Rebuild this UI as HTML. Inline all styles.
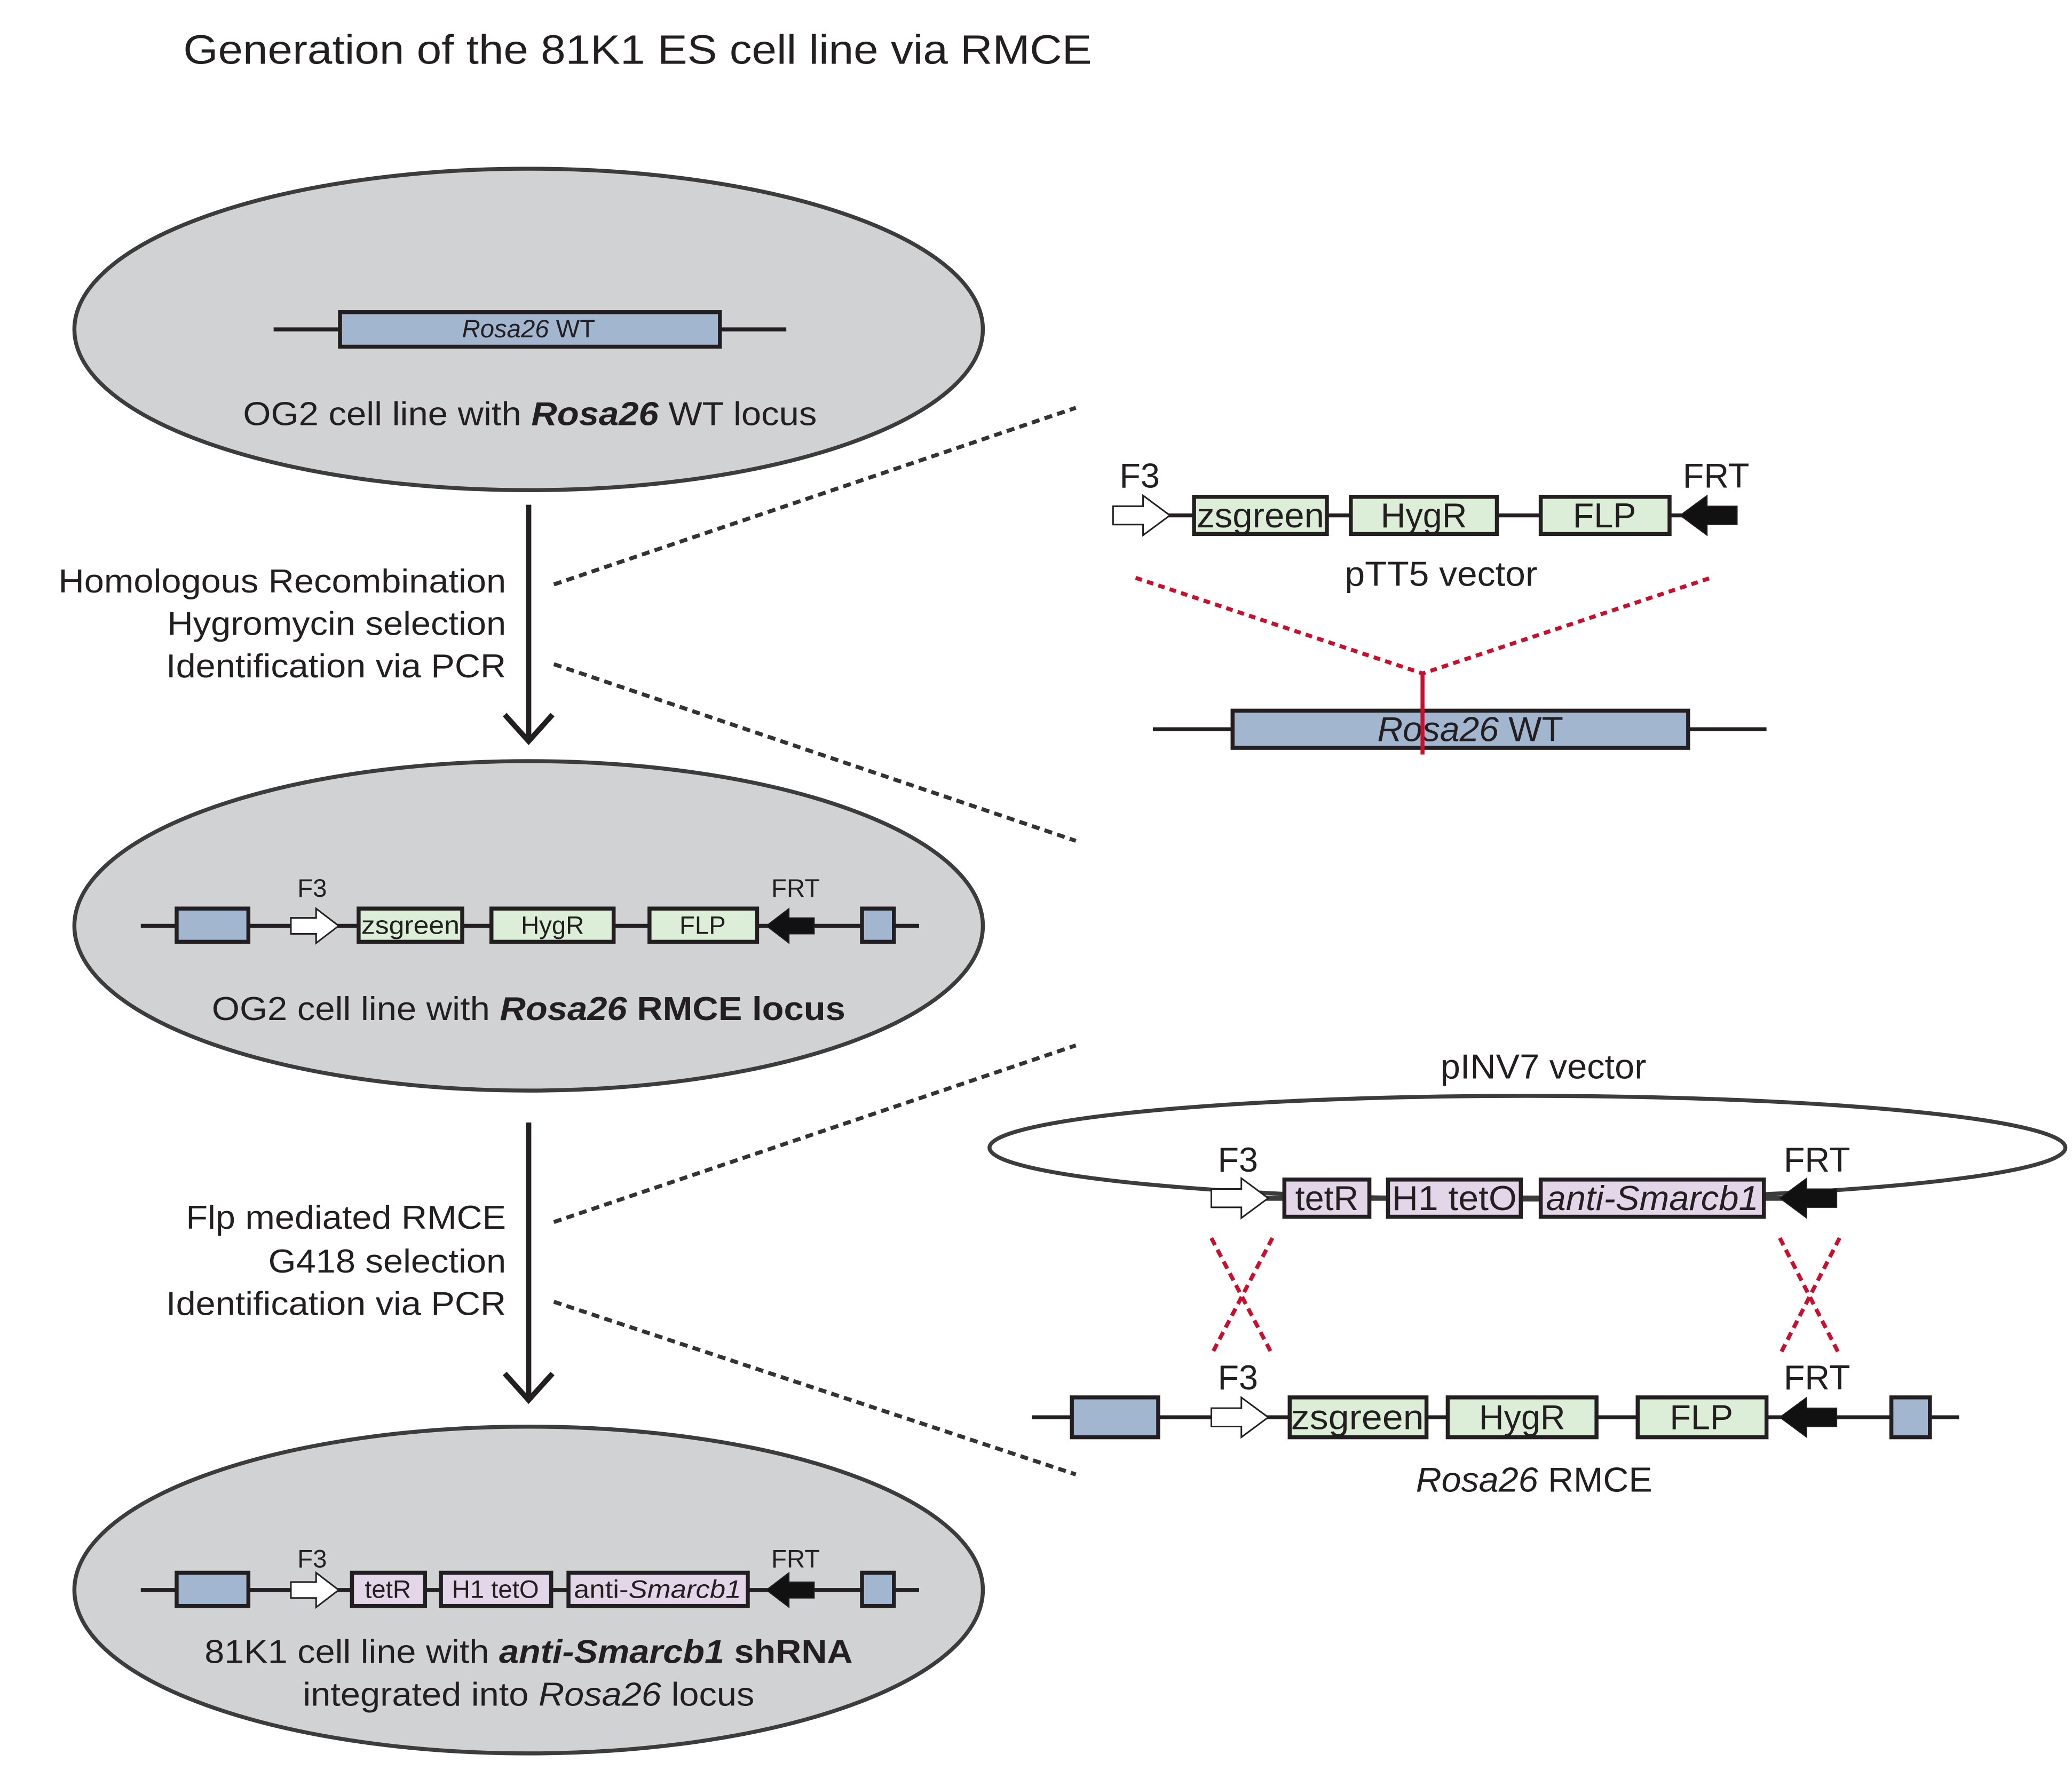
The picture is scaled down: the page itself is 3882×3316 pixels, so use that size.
<!DOCTYPE html>
<html><head><meta charset="utf-8"><style>
html,body{margin:0;padding:0;background:#fff}
svg{display:block}
text{font-family:"Liberation Sans",Arial,sans-serif;fill:#231f20}
</style></head><body>
<svg width="3882" height="3316" viewBox="0 0 1560 1332.5" preserveAspectRatio="none" xmlns="http://www.w3.org/2000/svg">
<defs>
<polygon id="oa" points="0,-6 19,-6 19,-13 36,0 19,13 19,6 0,6" fill="#fff" stroke="#231f20" stroke-width="3" vector-effect="non-scaling-stroke"/>
<polygon id="ba" points="36,-6 17,-6 17,-13 0,0 17,13 17,6 36,6" fill="#111" stroke="#231f20" stroke-width="2" vector-effect="non-scaling-stroke"/>
</defs>
<text x="138" y="48" font-size="31" textLength="684" lengthAdjust="spacingAndGlyphs">Generation of the 81K1 ES cell line via RMCE</text>

<!-- Ellipse 1 -->
<ellipse cx="398" cy="248" rx="342" ry="121" fill="#d1d2d4" stroke="#3c3c3c" stroke-width="3"/>
<line x1="206" y1="248" x2="592" y2="248" stroke="#231f20" stroke-width="3"/>
<rect x="256" y="235" width="286" height="26" fill="#a2b6cf" stroke="#231f20" stroke-width="3"/>
<text x="398" y="254" font-size="19" text-anchor="middle"><tspan font-style="italic">Rosa26</tspan> WT</text>
<text x="399" y="320" font-size="25" text-anchor="middle" textLength="432" lengthAdjust="spacingAndGlyphs">OG2 cell line with <tspan font-weight="bold" font-style="italic">Rosa26</tspan> WT locus</text>

<!-- Arrow 1 -->
<line x1="398" y1="380" x2="398" y2="558" stroke="#231f20" stroke-width="4"/>
<polyline points="380,538 398,558 416,538" fill="none" stroke="#231f20" stroke-width="4"/>
<g font-size="25" text-anchor="end">
<text x="381" y="446" textLength="337" lengthAdjust="spacingAndGlyphs">Homologous Recombination</text>
<text x="381" y="478" textLength="255" lengthAdjust="spacingAndGlyphs">Hygromycin selection</text>
<text x="381" y="510" textLength="256" lengthAdjust="spacingAndGlyphs">Identification via PCR</text>
</g>

<!-- Ellipse 2 -->
<ellipse cx="398" cy="697" rx="342" ry="124" fill="#d1d2d4" stroke="#3c3c3c" stroke-width="3"/>
<line x1="106" y1="697" x2="692" y2="697" stroke="#231f20" stroke-width="3"/>
<rect x="133" y="684" width="54" height="25" fill="#a2b6cf" stroke="#231f20" stroke-width="3"/>
<use href="#oa" transform="translate(219,697)"/>
<rect x="270" y="684" width="78" height="25" fill="#ddeed8" stroke="#231f20" stroke-width="3"/>
<rect x="370" y="684" width="92" height="25" fill="#ddeed8" stroke="#231f20" stroke-width="3"/>
<rect x="489" y="684" width="81" height="25" fill="#ddeed8" stroke="#231f20" stroke-width="3"/>
<use href="#ba" transform="translate(577,697)"/>
<rect x="649" y="684" width="24" height="25" fill="#a2b6cf" stroke="#231f20" stroke-width="3"/>
<g font-size="19" text-anchor="middle">
<text x="309" y="703" textLength="74" lengthAdjust="spacingAndGlyphs">zsgreen</text><text x="416" y="703">HygR</text><text x="529" y="703">FLP</text>
<text x="235" y="675">F3</text><text x="599" y="675">FRT</text>
</g>
<text x="398" y="768" font-size="25" text-anchor="middle" textLength="477" lengthAdjust="spacingAndGlyphs">OG2 cell line with <tspan font-weight="bold" font-style="italic">Rosa26</tspan><tspan font-weight="bold"> RMCE locus</tspan></text>

<!-- Arrow 2 -->
<line x1="398" y1="845" x2="398" y2="1054" stroke="#231f20" stroke-width="4"/>
<polyline points="380,1034 398,1054 416,1034" fill="none" stroke="#231f20" stroke-width="4"/>
<g font-size="25" text-anchor="end">
<text x="381" y="925" textLength="241" lengthAdjust="spacingAndGlyphs">Flp mediated RMCE</text>
<text x="381" y="958" textLength="179" lengthAdjust="spacingAndGlyphs">G418 selection</text>
<text x="381" y="990" textLength="256" lengthAdjust="spacingAndGlyphs">Identification via PCR</text>
</g>

<!-- Ellipse 3 -->
<ellipse cx="398" cy="1197" rx="342" ry="123" fill="#d1d2d4" stroke="#3c3c3c" stroke-width="3"/>
<line x1="106" y1="1197" x2="692" y2="1197" stroke="#231f20" stroke-width="3"/>
<rect x="133" y="1184" width="54" height="25" fill="#a2b6cf" stroke="#231f20" stroke-width="3"/>
<use href="#oa" transform="translate(219,1197)"/>
<rect x="265" y="1184" width="55" height="25" fill="#e2d6e8" stroke="#231f20" stroke-width="3"/>
<rect x="332" y="1184" width="83" height="25" fill="#e2d6e8" stroke="#231f20" stroke-width="3"/>
<rect x="428" y="1184" width="135" height="25" fill="#e2d6e8" stroke="#231f20" stroke-width="3"/>
<use href="#ba" transform="translate(577,1197)"/>
<rect x="649" y="1184" width="24" height="25" fill="#a2b6cf" stroke="#231f20" stroke-width="3"/>
<g font-size="19" text-anchor="middle">
<text x="292" y="1203">tetR</text><text x="373" y="1203">H1 tetO</text><text x="495" y="1203" textLength="126" lengthAdjust="spacingAndGlyphs">anti-<tspan font-style="italic">Smarcb1</tspan></text>
<text x="235" y="1180">F3</text><text x="599" y="1180">FRT</text>
</g>
<text x="398" y="1252" font-size="25" text-anchor="middle" textLength="488" lengthAdjust="spacingAndGlyphs">81K1 cell line with <tspan font-weight="bold" font-style="italic">anti-Smarcb1</tspan><tspan font-weight="bold"> shRNA</tspan></text>
<text x="398" y="1284" font-size="25" text-anchor="middle" textLength="340" lengthAdjust="spacingAndGlyphs">integrated into <tspan font-style="italic">Rosa26</tspan> locus</text>

<!-- gray dashed -->
<g stroke="#333" stroke-width="3" stroke-dasharray="6 4">
<line x1="417" y1="440" x2="810" y2="307"/>
<line x1="417" y1="500" x2="810" y2="633"/>
<line x1="417" y1="920" x2="810" y2="787"/>
<line x1="417" y1="980" x2="810" y2="1110"/>
</g>

<!-- pTT5 -->
<line x1="840" y1="388" x2="1305" y2="388" stroke="#231f20" stroke-width="3"/>
<use href="#oa" transform="translate(838,388) scale(1.19,1.15)"/>
<rect x="899" y="374" width="100" height="28" fill="#ddeed8" stroke="#231f20" stroke-width="3"/>
<rect x="1017" y="374" width="110" height="28" fill="#ddeed8" stroke="#231f20" stroke-width="3"/>
<rect x="1160" y="374" width="97" height="28" fill="#ddeed8" stroke="#231f20" stroke-width="3"/>
<use href="#ba" transform="translate(1265,388) scale(1.19,1.15)"/>
<g font-size="26" text-anchor="middle">
<text x="949" y="397" textLength="96" lengthAdjust="spacingAndGlyphs">zsgreen</text><text x="1072" y="397">HygR</text><text x="1208" y="397">FLP</text>
<text x="858" y="367">F3</text><text x="1292" y="367">FRT</text>
<text x="1085" y="441" textLength="145" lengthAdjust="spacingAndGlyphs">pTT5 vector</text>
</g>
<polyline points="855,435 1071,507 1288,435" fill="none" stroke="#c8102e" stroke-width="3" stroke-dasharray="5 4"/>
<line x1="868" y1="549" x2="1330" y2="549" stroke="#231f20" stroke-width="3"/>
<rect x="928" y="535" width="343" height="28" fill="#a2b6cf" stroke="#231f20" stroke-width="3"/>
<text x="1107" y="558" font-size="26" text-anchor="middle" textLength="140" lengthAdjust="spacingAndGlyphs"><tspan font-style="italic">Rosa26</tspan> WT</text>
<line x1="1071" y1="507" x2="1071" y2="568" stroke="#c8102e" stroke-width="3"/>

<!-- pINV7 -->
<text x="1162" y="812" font-size="26" text-anchor="middle" textLength="155" lengthAdjust="spacingAndGlyphs">pINV7 vector</text>
<ellipse cx="1150" cy="864" rx="405" ry="39" fill="none" stroke="#3c3c3c" stroke-width="3"/>
<line x1="912" y1="902" x2="1383" y2="902" stroke="#3c3c3c" stroke-width="4"/>
<use href="#oa" transform="translate(912,902) scale(1.19,1.15)"/>
<rect x="967" y="888" width="64" height="28" fill="#e2d6e8" stroke="#231f20" stroke-width="3"/>
<rect x="1045" y="888" width="100" height="28" fill="#e2d6e8" stroke="#231f20" stroke-width="3"/>
<rect x="1160" y="888" width="168" height="28" fill="#e2d6e8" stroke="#231f20" stroke-width="3"/>
<use href="#ba" transform="translate(1340,902) scale(1.19,1.15)"/>
<g font-size="26" text-anchor="middle">
<text x="999" y="911">tetR</text><text x="1095" y="911" textLength="94" lengthAdjust="spacingAndGlyphs">H1 tetO</text><text x="1244" y="911" font-style="italic" textLength="160" lengthAdjust="spacingAndGlyphs">anti-Smarcb1</text>
<text x="932" y="882">F3</text><text x="1368" y="882">FRT</text>
</g>
<g stroke="#c8102e" stroke-width="3" stroke-dasharray="6 4">
<line x1="912" y1="932" x2="958" y2="1020"/><line x1="958" y1="932" x2="912" y2="1020"/>
<line x1="1340" y1="932" x2="1385" y2="1020"/><line x1="1385" y1="932" x2="1340" y2="1020"/>
</g>

<!-- Rosa26 RMCE -->
<line x1="777" y1="1067" x2="1475" y2="1067" stroke="#231f20" stroke-width="3"/>
<rect x="807" y="1052" width="65" height="30" fill="#a2b6cf" stroke="#231f20" stroke-width="3"/>
<use href="#oa" transform="translate(912,1067) scale(1.19,1.15)"/>
<rect x="971" y="1052" width="103" height="30" fill="#ddeed8" stroke="#231f20" stroke-width="3"/>
<rect x="1090" y="1052" width="112" height="30" fill="#ddeed8" stroke="#231f20" stroke-width="3"/>
<rect x="1233" y="1052" width="97" height="30" fill="#ddeed8" stroke="#231f20" stroke-width="3"/>
<use href="#ba" transform="translate(1340,1067) scale(1.19,1.15)"/>
<rect x="1424" y="1052" width="29" height="30" fill="#a2b6cf" stroke="#231f20" stroke-width="3"/>
<g font-size="26" text-anchor="middle">
<text x="1022" y="1076" textLength="100" lengthAdjust="spacingAndGlyphs">zsgreen</text><text x="1146" y="1076">HygR</text><text x="1281" y="1076">FLP</text>
<text x="932" y="1046">F3</text><text x="1368" y="1046">FRT</text>
<text x="1155" y="1123" textLength="178" lengthAdjust="spacingAndGlyphs"><tspan font-style="italic">Rosa26</tspan> RMCE</text>
</g>
</svg>
</body></html>
